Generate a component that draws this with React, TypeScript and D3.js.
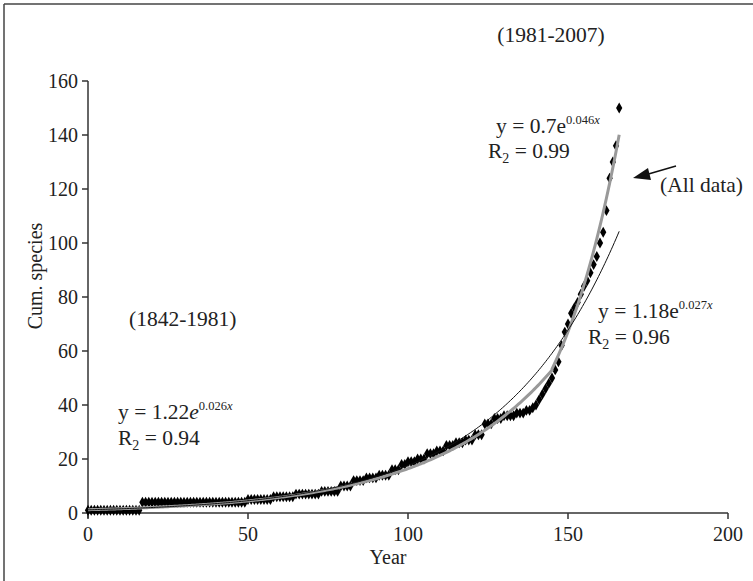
import React from 'react';
import * as d3 from 'd3';

// cumulative species count, one value per year since 1842 (year 0 .. 166)
const cumSpecies = [
  1, 1, 1, 1, 1, 1, 1, 1, 1, 1,
  1, 1, 1, 1, 1, 1, 1, 4, 4, 4,
  4, 4, 4, 4, 4, 4, 4, 4, 4, 4,
  4, 4, 4, 4, 4, 4, 4, 4, 4, 4,
  4, 4, 4, 4, 4, 4, 4, 4, 4, 4,
  5, 5, 5, 5, 5, 5, 5, 5, 6, 6,
  6, 6, 6, 6, 6, 7, 7, 7, 7, 7,
  7, 7, 7, 8, 8, 8, 8, 8, 8, 10,
  10, 10, 10, 12, 12, 12, 12, 13, 13, 13,
  13, 14, 14, 14, 14, 16, 16, 16, 18, 18,
  19, 19, 19, 20, 20, 20, 22, 22, 22, 23,
  23, 23, 25, 25, 25, 26, 26, 26, 27, 27,
  27, 29, 29, 29, 33, 33, 33, 35, 35, 35,
  36, 36, 36, 36, 37, 37, 37, 38, 38, 39,
  40, 42, 44, 46, 48, 50, 53, 56, 62, 67,
  70, 74, 76, 78, 81, 84, 86, 89, 92, 95,
  100, 104, 112, 124, 130, 136, 150,
];

const xTicks = [0, 50, 100, 150, 200];
const yTicks = [0, 20, 40, 60, 80, 100, 120, 140, 160];

// exponential fits: [a, b, xOffset, from, to]
const fitEarly = [1.22, 0.026, 0, 0, 145];      // 1842-1981, grey
const fitLate = [0.7, 0.046, 50.8, 145, 166];   // 1981-2007, grey (x counted from its own origin)
const fitAll = [1.18, 0.027, 0, 0, 166];        // all data, thin black

const font = '"Liberation Serif", "Times New Roman", serif';

const App = () => {
  const width = 753, height = 581;
  const x = d3.scaleLinear().domain([0, 200]).range([88, 728]);
  const y = d3.scaleLinear().domain([0, 160]).range([513, 81]);

  const curvePts = (f: number[]) => {
    const [a, b, off, from, to] = f;
    return d3.range(from, to + 0.01, 0.5).map(t => [t, a * Math.exp(b * (t - off))] as [number, number]);
  };
  const line = d3.line<[number, number]>().x(d => x(d[0])).y(d => y(d[1]));

  const greyPath = line([...curvePts(fitEarly), ...curvePts(fitLate)]) || '';
  const allPath = line(curvePts(fitAll)) || '';

  const diamond = d3.symbol(d3.symbolDiamond, 34)() || '';

  const supText = (txt: string) => (
    <>
      <tspan dy={-9} fontSize={12.5}>{txt}</tspan>
      <tspan fontSize={12.5} fontStyle="italic">x</tspan>
    </>
  );

  const rText = (val: string, px: number, py: number) => (
    <text x={px} y={py} fontSize={21.5}>
      R<tspan dy={5} fontSize={14}>2</tspan><tspan dy={-5}> = {val}</tspan>
    </text>
  );

  return (
    <svg width={width} height={height} style={{ position: 'absolute', left: 0, top: 0, background: '#fff' }}
      fontFamily={font} fontSize={20} fill="#222">
      {/* frame */}
      <line x1={4} y1={4} x2={753} y2={4} stroke="#444" strokeWidth={1.5} />
      <line x1={4} y1={4} x2={4} y2={581} stroke="#444" strokeWidth={1.5} />

      {/* axes */}
      <g stroke="#333" strokeWidth={1.5}>
        <line x1={x(0)} y1={y(0)} x2={x(200)} y2={y(0)} />
        <line x1={x(0)} y1={y(0) + 5} x2={x(0)} y2={y(160)} />
        {xTicks.map(t => <line key={'xt' + t} x1={x(t)} x2={x(t)} y1={y(0)} y2={y(0) + 6} />)}
        {yTicks.map(t => <line key={'yt' + t} x1={x(0) - 6} x2={x(0)} y1={y(t)} y2={y(t)} />)}
      </g>
      {xTicks.map(t => (
        <text key={'xl' + t} x={x(t)} y={y(0) + 28} textAnchor="middle">{t}</text>
      ))}
      {yTicks.map(t => (
        <text key={'yl' + t} x={x(0) - 10} y={y(t) + 7} textAnchor="end">{t}</text>
      ))}
      <text x={388} y={564} textAnchor="middle">Year</text>
      <text transform="translate(42,276) rotate(-90)" textAnchor="middle">Cum. species</text>

      {/* data */}
      <g fill="#000">
        {cumSpecies.map((v, i) => (
          <path key={i} d={diamond} transform={`translate(${x(i)},${y(v)})`} />
        ))}
      </g>

      {/* fitted curves */}
      <path d={greyPath} fill="none" stroke="#999" strokeWidth={3} />
      <path d={allPath} fill="none" stroke="#111" strokeWidth={1} />

      {/* annotations */}
      <g fontSize={21.5}>
        <text x={551} y={42} textAnchor="middle">(1981-2007)</text>
        <text x={496} y={133}>y = 0.7e{supText('0.046')}</text>
        <text x={660} y={192}>(All data)</text>
        <text x={129} y={326}>(1842-1981)</text>
        <text x={118} y={419}>y = 1.22<tspan fontStyle="italic">e</tspan>{supText('0.026')}</text>
        <text x={598} y={318}>y = 1.18e{supText('0.027')}</text>
      </g>
      {rText('0.99', 488, 158)}
      {rText('0.94', 118, 445)}
      {rText('0.96', 588, 344)}

      <line x1={676} y1={166} x2={645} y2={175} stroke="#111" strokeWidth={1.5} />
      <polygon points="633,178 648,168 651,180" fill="#111" />
    </svg>
  );
};

export default App;
